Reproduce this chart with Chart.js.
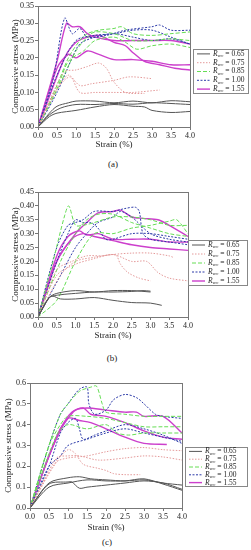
<!DOCTYPE html>
<html>
<head>
<meta charset="utf-8">
<script src="https://cdn.jsdelivr.net/npm/chart.js@4.4.1/dist/chart.umd.min.js"></script>
<style>
  body { margin: 0; background: #fff; width: 251px; height: 550px; position: relative; overflow: hidden; }
  .box { position: absolute; left: 0; width: 251px; }
  .cap { position: absolute; font-family: 'Liberation Serif', serif; font-size: 9px; color: #222; transform: translate(-50%, -50%); }
</style>
</head>
<body>
<div class="box" style="top:0;height:152px"><canvas id="chartA"></canvas></div>
<div class="cap" style="left:113px;top:164px">(a)</div>
<div class="box" style="top:185px;height:158px"><canvas id="chartB"></canvas></div>
<div class="cap" style="left:112px;top:358px">(b)</div>
<div class="box" style="top:375px;height:160px"><canvas id="chartC"></canvas></div>
<div class="cap" style="left:107px;top:542px">(c)</div>
<script>
// group labels (R_wc values)
const groups = ['0.65', '0.75', '0.85', '1.00', '1.55'];
const xTicks = [0, 0.5, 1, 1.5, 2, 2.5, 3, 3.5, 4];

// panel (a) - each curve is [strain %, stress MPa] pairs
const a065 = [
  [[0,0],[0.3,0.04],[0.5,0.06],[0.8,0.07],[1.0,0.075],[1.5,0.075],[2.0,0.07],[2.5,0.075],[3.0,0.07],[3.5,0.076],[4.0,0.073]],
  [[0,0],[0.3,0.035],[0.6,0.055],[1.0,0.065],[1.5,0.065],[2.0,0.068],[2.5,0.066],[3.0,0.07],[3.5,0.068],[4.0,0.065]],
  [[0,0],[0.3,0.03],[0.5,0.04],[1.0,0.048],[1.5,0.058],[2.0,0.065],[2.5,0.06],[2.8,0.058],[3.0,0.048],[3.5,0.042],[4.0,0.045]]
];
const a075 = [
  [[0,0],[0.4,0.1],[0.7,0.16],[1.0,0.165],[1.3,0.175],[1.6,0.185],[1.8,0.17],[2.0,0.13],[2.3,0.1],[2.8,0.097]],
  [[0,0],[0.5,0.11],[0.8,0.15],[1.1,0.12],[1.4,0.125],[2.0,0.135],[2.4,0.145],[3.0,0.14]],
  [[0,0],[0.5,0.11],[0.85,0.145],[1.1,0.1],[1.5,0.1],[2.0,0.1],[2.5,0.1],[3.2,0.107]]
];
const a085 = [
  [[0,0],[0.5,0.12],[0.8,0.2],[1.1,0.25],[1.3,0.27],[1.6,0.28],[2.0,0.285],[2.2,0.29],[2.5,0.27],[3.0,0.265],[3.5,0.27],[4.0,0.275]],
  [[0,0],[0.5,0.11],[0.8,0.19],[1.2,0.22],[1.5,0.25],[2.0,0.26],[2.3,0.245],[2.6,0.225],[3.0,0.235],[3.5,0.24],[4.0,0.23]],
  [[0,0],[0.6,0.13],[1.0,0.22],[1.3,0.26],[1.5,0.275],[2.0,0.27],[2.5,0.25],[3.0,0.25],[3.5,0.255],[4.0,0.25]]
];
const a100 = [
  [[0,0],[0.4,0.14],[0.7,0.315],[0.9,0.27],[1.1,0.285],[1.3,0.26],[1.8,0.265],[2.3,0.28],[3.0,0.29],[3.2,0.295],[3.5,0.28],[4.0,0.28]],
  [[0,0],[0.5,0.15],[1.0,0.25],[1.5,0.265],[2.0,0.27],[2.5,0.28],[3.0,0.28],[3.5,0.26],[4.0,0.24]],
  [[0,0],[0.5,0.1],[0.9,0.2],[1.1,0.24],[1.5,0.26],[2.0,0.27],[2.5,0.26],[3.0,0.25],[3.5,0.255],[4.0,0.24]]
];
const a155 = [
  [[0,0],[0.5,0.19],[0.75,0.3],[0.9,0.29],[1.1,0.29],[1.3,0.27],[1.5,0.26],[2.0,0.25],[2.5,0.25],[3.0,0.25],[3.5,0.25],[4.0,0.24]],
  [[0,0],[0.5,0.17],[0.8,0.21],[1.0,0.2],[1.3,0.22],[1.6,0.21],[2.0,0.195],[2.5,0.195],[3.0,0.19],[3.5,0.18],[4.0,0.18]],
  [[0,0],[0.7,0.2],[1.0,0.245],[1.3,0.26],[1.6,0.265],[2.0,0.245],[2.3,0.235],[2.5,0.215],[2.8,0.19],[3.2,0.18],[3.6,0.17],[4.0,0.165]]
];
const aYTicks = [0, 0.05, 0.1, 0.15, 0.2, 0.25, 0.3, 0.35];

// panel (b)
const b065 = [
  [[0,0],[0.3,0.07],[0.5,0.085],[1.0,0.095],[1.5,0.09],[2.0,0.095],[2.5,0.095],[3.0,0.09]],
  [[0,0],[0.3,0.07],[0.6,0.08],[1.0,0.085],[1.5,0.09],[2.0,0.09],[2.5,0.092],[2.8,0.095],[3.0,0.093]],
  [[0,0],[0.3,0.07],[0.4,0.075],[0.6,0.065],[1.0,0.065],[1.5,0.07],[2.0,0.06],[2.5,0.052],[3.0,0.05],[3.3,0.042]]
];
const b075 = [
  [[0,0],[0.5,0.17],[0.9,0.2],[1.3,0.22],[1.7,0.22],[2.0,0.225],[2.1,0.22],[2.2,0.19],[2.4,0.16],[2.7,0.14],[3.0,0.13]],
  [[0,0],[0.5,0.15],[1.0,0.19],[1.5,0.21],[2.0,0.225],[2.5,0.2],[2.9,0.2],[3.2,0.16],[3.5,0.14],[4.0,0.13]],
  [[0,0],[0.6,0.15],[1.0,0.2],[1.5,0.215],[2.0,0.225],[2.5,0.23],[3.0,0.23],[3.5,0.22],[3.6,0.215]]
];
const b085 = [
  [[0,0],[0.4,0.2],[0.7,0.36],[0.82,0.4],[1.0,0.33],[1.2,0.33],[1.5,0.34],[2.0,0.36],[2.5,0.36],[3.0,0.35],[3.5,0.33],[4.0,0.33]],
  [[0,0],[0.5,0.06],[1.0,0.2],[1.5,0.3],[2.0,0.3],[2.5,0.32],[3.0,0.33],[3.5,0.345],[3.7,0.35],[4.0,0.3]],
  [[0,0],[0.6,0.2],[1.0,0.3],[1.3,0.35],[1.6,0.37],[2.0,0.37],[2.5,0.34],[3.0,0.32],[3.5,0.3],[4.0,0.29]]
];
const b100 = [
  [[0,0],[0.5,0.25],[0.8,0.33],[1.0,0.34],[1.2,0.35],[1.5,0.38],[2.0,0.38],[2.3,0.39],[2.6,0.395],[2.7,0.38],[2.8,0.3],[3.0,0.28],[3.5,0.27],[4.0,0.26]],
  [[0,0],[0.5,0.2],[0.8,0.3],[1.0,0.35],[1.2,0.34],[1.4,0.34],[1.6,0.32],[1.8,0.28],[2.0,0.28],[2.5,0.3],[3.0,0.3],[3.5,0.29],[4.0,0.28]],
  [[0,0],[0.6,0.15],[1.0,0.25],[1.3,0.3],[1.6,0.34],[2.0,0.36],[2.2,0.38],[2.5,0.36],[3.0,0.3],[3.5,0.28],[4.0,0.27]]
];
const b155 = [
  [[0,0],[0.5,0.2],[1.0,0.3],[1.3,0.34],[1.6,0.375],[2.0,0.38],[2.2,0.385],[2.5,0.36],[2.8,0.355],[3.2,0.35],[3.5,0.33],[4.0,0.29]],
  [[0,0],[0.5,0.22],[0.8,0.29],[1.1,0.31],[1.3,0.295],[1.6,0.3],[2.0,0.28],[2.5,0.28],[3.0,0.28],[3.5,0.27],[4.0,0.27]],
  [[0,0],[0.5,0.2],[0.9,0.28],[1.2,0.3],[1.5,0.29],[2.0,0.275],[2.5,0.26],[3.0,0.25],[3.5,0.245],[4.0,0.24]]
];
const bYTicks = [0, 0.05, 0.1, 0.15, 0.2, 0.25, 0.3, 0.35, 0.4, 0.45];

// panel (c)
const c065 = [
  [[0,0],[0.5,0.12],[1.0,0.145],[1.3,0.15],[1.6,0.14],[2.0,0.135],[2.5,0.13],[3.0,0.135],[3.5,0.12],[4.0,0.11]],
  [[0,0],[0.5,0.115],[1.0,0.125],[1.1,0.125],[1.3,0.095],[1.5,0.1],[2.0,0.11],[2.5,0.12],[3.0,0.13],[3.5,0.12],[4.0,0.09]],
  [[0,0],[0.5,0.1],[1.0,0.12],[1.5,0.135],[2.0,0.13],[2.5,0.13],[3.0,0.14],[3.5,0.115],[4.0,0.085]]
];
const c075 = [
  [[0,0],[0.6,0.2],[1.0,0.28],[1.2,0.26],[1.4,0.21],[1.8,0.19],[2.0,0.18],[2.2,0.165],[2.5,0.16],[2.9,0.16]],
  [[0,0],[0.7,0.22],[1.0,0.24],[1.5,0.25],[2.0,0.27],[2.5,0.285],[3.0,0.29],[3.5,0.28],[4.0,0.275]],
  [[0,0],[0.7,0.24],[1.0,0.25],[1.3,0.25],[1.8,0.23],[2.5,0.24],[3.0,0.25],[3.5,0.245],[4.0,0.23]]
];
const c085 = [
  [[0,0],[0.5,0.3],[0.8,0.45],[1.0,0.5],[1.3,0.56],[1.6,0.58],[1.75,0.585],[1.9,0.5],[2.0,0.46],[2.5,0.45],[3.0,0.44],[3.5,0.44],[4.0,0.44]],
  [[0,0],[0.5,0.3],[0.8,0.4],[1.0,0.44],[1.5,0.44],[2.0,0.43],[2.5,0.41],[3.0,0.39],[3.5,0.39],[4.0,0.39]],
  [[0,0],[0.7,0.35],[1.0,0.4],[1.5,0.38],[2.0,0.4],[2.3,0.36],[2.6,0.35],[3.0,0.36],[3.5,0.36],[4.0,0.36]]
];
const c100 = [
  [[0,0],[0.5,0.3],[0.8,0.45],[1.0,0.5],[1.3,0.57],[1.5,0.58],[1.55,0.5],[1.7,0.45],[2.0,0.47],[2.2,0.52],[2.5,0.545],[2.8,0.53],[3.0,0.5],[3.3,0.45],[3.5,0.44],[4.0,0.43]],
  [[0,0],[0.5,0.2],[0.8,0.36],[1.0,0.41],[1.2,0.43],[1.3,0.38],[1.4,0.33],[1.7,0.35],[2.0,0.37],[2.5,0.4],[3.0,0.38],[3.5,0.35],[4.0,0.31]],
  [[0,0],[0.5,0.2],[0.8,0.25],[1.0,0.3],[1.5,0.33],[2.0,0.36],[2.5,0.38],[3.0,0.36],[3.5,0.34],[4.0,0.32]]
];
const c155 = [
  [[0,0],[0.5,0.25],[0.8,0.38],[1.0,0.43],[1.2,0.47],[1.5,0.48],[2.0,0.47],[2.5,0.46],[2.8,0.46],[3.0,0.44],[3.5,0.44],[4.0,0.36]],
  [[0,0],[0.5,0.25],[0.8,0.38],[1.1,0.46],[1.4,0.48],[1.6,0.45],[2.0,0.44],[2.5,0.41],[3.0,0.37],[3.5,0.34],[4.0,0.33]],
  [[0,0],[0.5,0.25],[1.0,0.43],[1.3,0.42],[1.6,0.41],[2.0,0.38],[2.5,0.34],[3.0,0.31],[3.6,0.305]]
];
const cYTicks = [0, 0.1, 0.2, 0.3, 0.4, 0.5, 0.6];

// line style per group
const styles = [
  { color: '#555555', dash: [], width: 1 },
  { color: '#e49a9a', dash: [1.5, 1.5], width: 1 },
  { color: '#66dd55', dash: [4, 2], width: 1 },
  { color: '#2c3aa8', dash: [2, 1.5], width: 1 },
  { color: '#cc3fcc', dash: [], width: 1.4 }
];

const FONT = "'Liberation Serif', 'DejaVu Serif', serif";

function buildDatasets(sets) {
  const out = [];
  sets.forEach(function(curves, g) {
    curves.forEach(function(c) {
      out.push({
        data: c.map(p => ({ x: p[0], y: p[1] })),
        borderColor: styles[g].color,
        borderDash: styles[g].dash,
        borderWidth: styles[g].width,
        pointRadius: 0,
        tension: 0.3,
        fill: false
      });
    });
  });
  return out;
}

// frame around plot + legend box
const framePlugin = {
  id: 'frame',
  afterDraw(chart, args, opts) {
    const ctx = chart.ctx;
    const a = chart.chartArea;
    ctx.save();
    ctx.strokeStyle = '#777';
    ctx.lineWidth = 1;
    ctx.strokeRect(Math.round(a.left) + 0.5, Math.round(a.top) + 0.5, Math.round(a.right - a.left), Math.round(a.bottom - a.top));
    // legend
    const L = opts.box;
    ctx.strokeStyle = '#888';
    ctx.strokeRect(L.x + 0.5, L.y + 0.5, L.w, L.h);
    const rowH = L.h / groups.length;
    groups.forEach(function(lab, i) {
      const y = L.y + rowH * (i + 0.5) + 0.5;
      ctx.strokeStyle = styles[i].color;
      ctx.lineWidth = styles[i].width;
      ctx.setLineDash(styles[i].dash);
      ctx.beginPath();
      ctx.moveTo(L.x + 4, y);
      ctx.lineTo(L.x + 17, y);
      ctx.stroke();
      ctx.setLineDash([]);
      ctx.fillStyle = '#222';
      ctx.textBaseline = 'middle';
      let tx = L.x + 20;
      ctx.font = 'italic 7.5px ' + FONT;
      ctx.fillText('R', tx, y);
      tx += ctx.measureText('R').width;
      ctx.font = '5px ' + FONT;
      ctx.fillText('wc', tx, y + 2);
      tx += ctx.measureText('wc').width;
      ctx.font = '7.5px ' + FONT;
      ctx.fillText(' = ' + lab, tx, y);
    });
    ctx.restore();
  }
};

function makeChart(id, sets, yTicks, yMax, decimals, pad, yWidth, xHeight, legendBox) {
  const ctx = document.getElementById(id).getContext('2d');
  return new Chart(ctx, {
    type: 'line',
    data: { datasets: buildDatasets(sets) },
    plugins: [framePlugin],
    options: {
      responsive: true,
      maintainAspectRatio: false,
      animation: false,
      layout: { padding: pad },
      plugins: {
        legend: { display: false },
        tooltip: { enabled: false },
        frame: { box: legendBox }
      },
      scales: {
        x: {
          type: 'linear',
          min: 0,
          max: 4,
          afterBuildTicks: function(scale) { scale.ticks = xTicks.map(v => ({ value: v })); },
          afterFit: function(scale) { scale.height = xHeight; },
          grid: { drawOnChartArea: false, tickLength: 3, color: '#777' },
          border: { color: '#777' },
          ticks: {
            font: { family: FONT, size: 8 },
            color: '#222',
            padding: 1,
            maxRotation: 0,
            callback: v => v.toFixed(1)
          },
          title: {
            display: true,
            text: 'Strain (%)',
            font: { family: FONT, size: 9 },
            color: '#222',
            padding: { top: 0, bottom: 2 }
          }
        },
        y: {
          min: 0,
          max: yMax,
          afterBuildTicks: function(scale) { scale.ticks = yTicks.map(v => ({ value: v })); },
          afterFit: function(scale) { scale.width = yWidth; },
          grid: { drawOnChartArea: false, tickLength: 3, color: '#777' },
          border: { color: '#777' },
          ticks: {
            font: { family: FONT, size: 8 },
            color: '#222',
            padding: 1,
            callback: v => v.toFixed(decimals)
          },
          title: {
            display: true,
            text: 'Compressive stress (MPa)',
            font: { family: FONT, size: 9 },
            color: '#222',
            padding: 0
          }
        }
      }
    }
  });
}

makeChart('chartA', [a065, a075, a085, a100, a155], aYTicks, 0.35, 2,
  { top: 6, right: 61, left: 10, bottom: 0 }, 28, 25, { x: 193, y: 49, w: 55, h: 44 });
makeChart('chartB', [b065, b075, b085, b100, b155], bYTicks, 0.45, 2,
  { top: 7, right: 63, left: 10, bottom: 0 }, 28, 26, { x: 188, y: 55, w: 59, h: 45 });
makeChart('chartC', [c065, c075, c085, c100, c155], cYTicks, 0.6, 1,
  { top: 8, right: 69, left: 3, bottom: 0 }, 27, 27, { x: 185, y: 72, w: 62, h: 39 });
</script>
</body>
</html>
